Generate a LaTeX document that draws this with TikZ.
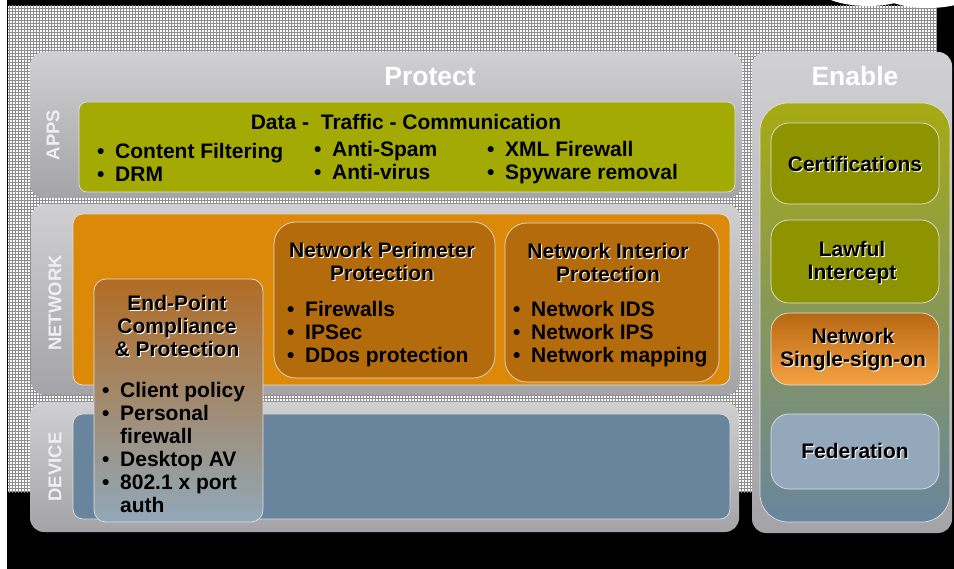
\documentclass[tikz,border=0pt]{standalone}
\usepackage{fontspec}
\setmainfont{Liberation Sans}
\usetikzlibrary{patterns}

\definecolor{bandhi}{RGB}{208,208,210}
\definecolor{bandlo}{RGB}{164,163,167}
\definecolor{appsolive}{RGB}{164,170,4}
\definecolor{netorange}{RGB}{220,136,8}
\definecolor{netbrown}{RGB}{180,107,12}
\definecolor{devblue}{RGB}{105,133,158}
\definecolor{eptop}{RGB}{178,108,36}
\definecolor{epmid}{RGB}{165,136,124}
\definecolor{epbot}{RGB}{145,168,185}
\definecolor{entop}{RGB}{166,171,18}
\definecolor{enmid}{RGB}{142,157,104}
\definecolor{enolive}{RGB}{142,148,0}
\definecolor{ssotop}{RGB}{183,104,18}
\definecolor{ssobot}{RGB}{246,162,66}
\definecolor{fedblue}{RGB}{147,168,186}

% text with a light drop shadow
\newcommand\shd[1]{\makebox[0pt][l]{\hspace{1pt}\raisebox{-1pt}{\color{white}#1}}#1}
\newcommand\itm{\makebox[18pt][l]{\textbullet}}

\begin{document}
\begin{tikzpicture}[x=1pt,y=-1pt,
    band/.style={rounded corners=14pt,top color=bandhi,bottom color=bandlo},
    box/.style={rounded corners=#1,draw=white!75!gray,line width=0.7pt},
    box/.default=10pt,
    txt/.style={font=\fontsize{21}{23}\selectfont\bfseries,inner sep=0pt},
    head/.style={txt,align=center,anchor=base},
    list/.style={txt,align=left,anchor=base west},
    title/.style={font=\fontsize{26.5}{28}\selectfont\bfseries,text=white,inner sep=0pt,anchor=base},
    layer/.style={font=\fontsize{18.5}{20}\selectfont\bfseries,text=black!6,rotate=90,inner sep=0pt}
    ]
    \useasboundingbox (0,0) rectangle (954,569);
    % backdrop
    \fill[white] (0,0) rectangle (954,569);
    \fill[black] (7,0) rectangle (954,569);
    \fill[white] (8,6) rectangle (937,492);
    \fill[pattern=grid,pattern color=gray!90] (8,6) rectangle (937,492);
    \fill[white] (868,-14) ellipse [x radius=52pt,y radius=20pt];
    \fill[white] (928,-12) ellipse [x radius=52pt,y radius=20pt];

    % Protect layers
    \path[band] (30,52) rectangle (742,198);
    \path[band] (31,204) rectangle (740,395);
    \path[band] (30,402) rectangle (739,532);
    \path[box=8pt,fill=appsolive] (79,102) rectangle (735,192);
    \path[box,fill=netorange] (73,214) rectangle (730,385);
    \path[box,fill=devblue] (73,414) rectangle (730,519);
    \path[box=22pt,fill=netbrown] (274,222) rectangle (495,378);
    \path[box=22pt,fill=netbrown] (505,223) rectangle (719,382);
    \path[box=12pt,top color=eptop,middle color=epmid,bottom color=epbot] (94,279) rectangle (263,522);

    % Enable column
    \path[band] (752,52) rectangle (952,533);
    \path[box=28pt,top color=entop,middle color=enmid,bottom color=devblue] (760,103) rectangle (950,522);
    \path[box=18pt,fill=enolive] (771,123) rectangle (939,204);
    \path[box=18pt,fill=enolive] (771,220) rectangle (939,303);
    \path[box=18pt,top color=ssotop,bottom color=ssobot] (771,313) rectangle (939,385);
    \path[box=18pt,fill=fedblue] (771,414) rectangle (939,489);

    % titles and layer names
    \node (protect) [title] at (430,86) {Protect};
    \node (enable) [title] at (855,86) {Enable};
    \node (apps) [layer] at (53,135) {APPS};
    \node (network) [layer] at (55,303) {NETWORK};
    \node (device) [layer] at (55,467) {DEVICE};

    % apps (base = last line)
    \node (dtc) [head] at (406,130) {Data - \ Traffic - Communication};
    \node (appsa) [list] at (97,182) {\itm Content Filtering\\\itm DRM};
    \node (appsb) [list] at (314,180) {\itm Anti-Spam\\\itm Anti-virus};
    \node (appsc) [list] at (487,180) {\itm XML Firewall\\\itm Spyware removal};

    % network
    \node (perim) [head] at (382,281) {\shd{Network Perimeter}\\\shd{Protection}};
    \node (perimlist) [list] at (287,363) {\itm Firewalls\\\itm IPSec\\\itm DDos protection};
    \node (inter) [head] at (608,282) {\shd{Network Interior}\\\shd{Protection}};
    \node (interlist) [list] at (513,363) {\itm Network IDS\\\itm Network IPS\\\itm Network mapping};
    \node (endp) [head] at (177,357) {\shd{End-Point}\\\shd{Compliance}\\\shd{\& Protection}};
    \node (endplist) [list] at (102,512) {\itm Client policy\\\itm Personal\\\hspace*{18pt}firewall\\\itm Desktop AV\\\itm 802.1 x port\\\hspace*{18pt}auth};

    % enable
    \node (cert) [head] at (855,172) {\shd{Certifications}};
    \node (lawful) [head] at (852,280) {\shd{Lawful}\\\shd{Intercept}};
    \node (sso) [head] at (853,367) {\shd{Network}\\\shd{Single-sign-on}};
    \node (fed) [head] at (855,459) {\shd{Federation}};
\end{tikzpicture}
\end{document}
